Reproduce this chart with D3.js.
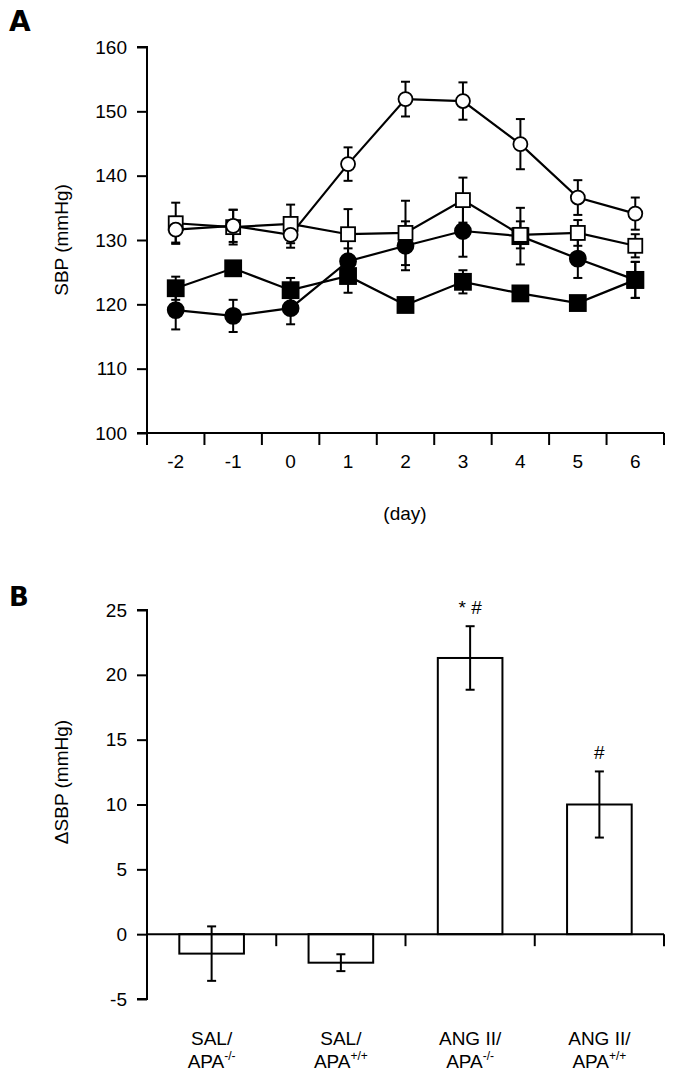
<!DOCTYPE html>
<html>
<head>
<meta charset="utf-8">
<script src="https://cdn.jsdelivr.net/npm/d3@7"></script>
<style>
  body { margin: 0; background: #fff; }
  svg { display: block; font-family: "Liberation Sans", Arial, Helvetica, sans-serif; }
</style>
</head>
<body>
<svg id="chart" width="674" height="1076"></svg>
<script>
// ---------- Panel A data ----------
const days = ["-2", "-1", "0", "1", "2", "3", "4", "5", "6"];
const yTicksA = [100, 110, 120, 130, 140, 150, 160];

// open circles
const openCircleMean = [131.6, 132.2, 130.8, 141.8, 151.9, 151.6, 144.9, 136.6, 134.1];
const openCircleErr  = [2.0, 2.5, 2.0, 2.6, 2.7, 2.9, 3.9, 2.7, 2.5];
// open squares
const openSquareMean = [132.6, 132.0, 132.5, 130.9, 131.1, 136.2, 130.8, 131.1, 129.1];
const openSquareErr  = [3.2, 2.7, 3.0, 3.9, 5.0, 3.5, 2.1, 2.0, 1.8];
// filled circles
const filledCircleMean = [119.1, 118.2, 119.4, 126.7, 129.1, 131.4, 130.6, 127.1, 123.8];
const filledCircleErr  = [3.0, 2.5, 2.5, 2.0, 3.8, 4.0, 4.4, 3.0, 2.8];
// filled squares
const filledSquareMean = [122.5, 125.6, 122.2, 124.4, 119.9, 123.5, 121.7, 120.2, 123.8];
const filledSquareErr  = [1.8, 0.5, 1.9, 2.6, 0.8, 1.8, 0.5, 0.5, 2.8];

// ---------- Panel B data ----------
const groups = ["SAL/APA-/-", "SAL/APA+/+", "ANG II/APA-/-", "ANG II/APA+/+"];
const groupLine1 = ["SAL/", "SAL/", "ANG II/", "ANG II/"];
const groupLine2Sup = ["-/-", "+/+", "-/-", "+/+"];
const deltaMean = [-1.5, -2.2, 21.3, 10.0];
const deltaErr  = [2.1, 0.65, 2.45, 2.55];
const deltaMarks = ["", "", "* #", "#"];
const yTicksB = [-5, 0, 5, 10, 15, 20, 25];

const svg = d3.select("#chart");
const FONT = 19;
const fmt = d => String(d); // plain hyphen for negatives, as in the original

// ================= Panel A =================
const xA = d3.scaleBand().domain(days).range([147, 664]).padding(0);
const yA = d3.scaleLinear().domain([100, 160]).range([433, 47]);
const cx = d => xA(d) + xA.bandwidth() / 2;

const gA = svg.append("g");

// panel letter
svg.append("text").attr("x", 9).attr("y", 31).attr("font-size", 28).attr("font-weight", "bold")
  .attr("font-family", "'DejaVu Sans', sans-serif").text("A");

// y axis
const yAxisA = d3.axisLeft(yA).tickValues(yTicksA).tickSize(10).tickPadding(10).tickFormat(fmt);
const ya = gA.append("g").attr("transform", "translate(147,0)").call(yAxisA);
ya.select(".domain").attr("stroke-width", 2).attr("d", `M-10,${yA(160)}H0V${yA(100)}H-10`);
ya.selectAll(".tick line").attr("stroke-width", 2);
ya.selectAll("text").attr("font-size", FONT).attr("font-family", "'Liberation Sans', Arial, sans-serif").attr("fill", "#000");

// x axis: line + boundary ticks + centered labels
gA.append("line").attr("x1", 147).attr("x2", 664).attr("y1", yA(100)).attr("y2", yA(100))
  .attr("stroke", "#000").attr("stroke-width", 2);
const bounds = days.map(d => xA(d)).concat([xA.range()[1]]);
gA.selectAll(".xtickA").data(bounds).enter().append("line")
  .attr("x1", d => d).attr("x2", d => d).attr("y1", yA(100)).attr("y2", yA(100) + 12)
  .attr("stroke", "#000").attr("stroke-width", 2);
gA.selectAll(".xlabA").data(days).enter().append("text")
  .attr("x", d => cx(d)).attr("y", yA(100) + 35).attr("text-anchor", "middle")
  .attr("font-size", FONT).text(d => d);
gA.append("text").attr("x", 405).attr("y", 520).attr("text-anchor", "middle")
  .attr("font-size", FONT).text("(day)");
gA.append("text").attr("transform", `translate(68,${(yA(100) + yA(160)) / 2}) rotate(-90)`)
  .attr("text-anchor", "middle").attr("font-size", FONT).text("SBP (mmHg)");

const seriesA = [
  { mean: filledSquareMean, err: filledSquareErr, shape: "square", fill: "#000", size: 16 },
  { mean: filledCircleMean, err: filledCircleErr, shape: "circle", fill: "#000", size: 16 },
  { mean: openSquareMean, err: openSquareErr, shape: "square", fill: "#fff", size: 14 },
  { mean: openCircleMean, err: openCircleErr, shape: "circle", fill: "#fff", size: 14 }
];

const line = d3.line().x((v, i) => cx(days[i])).y(v => yA(v));
seriesA.forEach(s => {
  gA.append("path").attr("d", line(s.mean)).attr("fill", "none").attr("stroke", "#000").attr("stroke-width", 2.2);
});
seriesA.forEach(s => {
  const eg = gA.append("g");
  s.mean.forEach((v, i) => {
    const x = cx(days[i]);
    const top = yA(v + s.err[i]), bot = yA(v - s.err[i]);
    eg.append("line").attr("x1", x).attr("x2", x).attr("y1", top).attr("y2", bot).attr("stroke", "#000").attr("stroke-width", 2);
    eg.append("line").attr("x1", x - 4.5).attr("x2", x + 4.5).attr("y1", top).attr("y2", top).attr("stroke", "#000").attr("stroke-width", 2);
    eg.append("line").attr("x1", x - 4.5).attr("x2", x + 4.5).attr("y1", bot).attr("y2", bot).attr("stroke", "#000").attr("stroke-width", 2);
  });
});
seriesA.forEach((s, si) => {
  s.mean.forEach((v, i) => {
    const x = cx(days[i]), y = yA(v);
    // in the original the filled-circle marker at day 4 and day 6 prints as a square
    const shape = (si === 1 && (i === 6 || i === 8)) ? "square" : s.shape;
    if (shape === "circle") {
      gA.append("circle").attr("cx", x).attr("cy", y).attr("r", s.size / 2)
        .attr("fill", s.fill).attr("stroke", "#000").attr("stroke-width", 1.8);
    } else {
      gA.append("rect").attr("x", x - s.size / 2).attr("y", y - s.size / 2)
        .attr("width", s.size).attr("height", s.size)
        .attr("fill", s.fill).attr("stroke", "#000").attr("stroke-width", 1.8);
    }
  });
});

// ================= Panel B =================
const xB = d3.scaleBand().domain(groups).range([147, 664]).padding(0);
const yB = d3.scaleLinear().domain([-5, 25]).range([999, 610]);
const gB = svg.append("g");

svg.append("text").attr("x", 9).attr("y", 606).attr("font-size", 26).attr("font-weight", "bold")
  .attr("font-family", "'DejaVu Sans', sans-serif").text("B");

const yAxisB = d3.axisLeft(yB).tickValues(yTicksB).tickSize(10).tickPadding(10).tickFormat(fmt);
const yb = gB.append("g").attr("transform", "translate(147,0)").call(yAxisB);
yb.select(".domain").attr("stroke-width", 2).attr("d", `M-10,${yB(25)}H0V${yB(-5)}H-10`);
yb.selectAll(".tick line").attr("stroke-width", 2);
yb.selectAll("text").attr("font-size", FONT).attr("font-family", "'Liberation Sans', Arial, sans-serif").attr("fill", "#000");

gB.append("text").attr("transform", `translate(68,782) rotate(-90)`)
  .attr("text-anchor", "middle").attr("font-size", FONT).text("\u0394SBP (mmHg)");

const bw = xB.bandwidth() * 0.5;
const bcx = d => xB(d) + xB.bandwidth() / 2;

gB.selectAll(".bar").data(groups).enter().append("rect")
  .attr("x", d => bcx(d) - bw / 2)
  .attr("y", (d, i) => yB(Math.max(0, deltaMean[i])))
  .attr("width", bw)
  .attr("height", (d, i) => Math.abs(yB(deltaMean[i]) - yB(0)))
  .attr("fill", "#fff").attr("stroke", "#000").attr("stroke-width", 2);

// x axis at zero
gB.append("line").attr("x1", 147).attr("x2", 664).attr("y1", yB(0)).attr("y2", yB(0))
  .attr("stroke", "#000").attr("stroke-width", 2);
const boundsB = groups.slice(1).map(d => xB(d)).concat([xB.range()[1]]);
gB.selectAll(".xtickB").data(boundsB).enter().append("line")
  .attr("x1", d => d).attr("x2", d => d).attr("y1", yB(0)).attr("y2", yB(0) + 12)
  .attr("stroke", "#000").attr("stroke-width", 2);

groups.forEach((g, i) => {
  const x = bcx(g);
  const top = yB(deltaMean[i] + deltaErr[i]), bot = yB(deltaMean[i] - deltaErr[i]);
  gB.append("line").attr("x1", x).attr("x2", x).attr("y1", top).attr("y2", bot).attr("stroke", "#000").attr("stroke-width", 2);
  gB.append("line").attr("x1", x - 4.5).attr("x2", x + 4.5).attr("y1", top).attr("y2", top).attr("stroke", "#000").attr("stroke-width", 2);
  gB.append("line").attr("x1", x - 4.5).attr("x2", x + 4.5).attr("y1", bot).attr("y2", bot).attr("stroke", "#000").attr("stroke-width", 2);
  if (deltaMarks[i]) {
    gB.append("text").attr("x", x).attr("y", top - 12).attr("text-anchor", "middle")
      .attr("font-size", FONT).text(deltaMarks[i]);
  }
  gB.append("text").attr("x", x).attr("y", 1045).attr("text-anchor", "middle")
    .attr("font-size", FONT).text(groupLine1[i]);
  const t2 = gB.append("text").attr("x", x).attr("y", 1068).attr("text-anchor", "middle").attr("font-size", FONT);
  t2.append("tspan").text("APA");
  t2.append("tspan").attr("font-size", 12).attr("dy", -8).text(groupLine2Sup[i]);
});
</script>
</body>
</html>
